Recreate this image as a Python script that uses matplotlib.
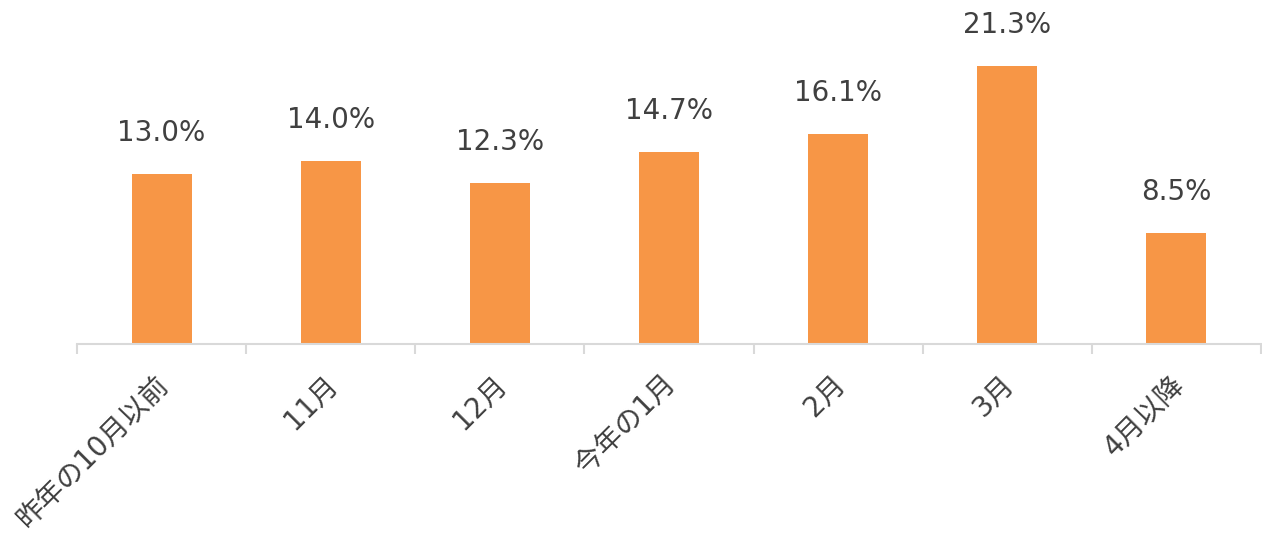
import matplotlib
matplotlib.use("Agg")
import matplotlib.pyplot as plt
import matplotlib.transforms as mtransforms
import numpy as np

categories = ["昨年の10月以前", "11月", "12月", "今年の1月", "2月", "3月", "4月以降"]
values = [13.0, 14.0, 12.3, 14.7, 16.1, 21.3, 8.5]
value_labels = ["13.0%", "14.0%", "12.3%", "14.7%", "16.1%", "21.3%", "8.5%"]

plt.rcParams['font.family'] = ['DejaVu Sans', 'Noto Sans CJK JP']

W, H = 1262, 534
fig = plt.figure(figsize=(W / 100, H / 100), dpi=100)
ax = fig.add_axes([77 / W, (H - 344) / H, (1261 - 77) / W, (344 - 17.5) / H])

x = np.arange(len(categories))
ax.bar(x, values, width=0.355, color="#F79646", zorder=2)
ax.set_xlim(-0.5, len(categories) - 0.5)
ax.set_ylim(0, 25)

text_color = "#404040"
for xi, v, lab in zip(x, values, value_labels):
    ax.annotate(lab, (xi, v), xytext=(0, 41), textcoords="offset pixels",
                ha="center", va="center", fontsize=20, color=text_color)

for s in ["top", "right", "left"]:
    ax.spines[s].set_visible(False)
ax.spines["bottom"].set_color("#D9D9D9")
ax.spines["bottom"].set_linewidth(1.5)
ax.set_yticks([])

ax.set_xticks(np.arange(len(categories) + 1) - 0.5)
ax.set_xticklabels([])
ax.tick_params(axis="x", which="major", length=7.2, width=1.5, color="#D9D9D9")
ax.set_xticks(x, minor=True)
ax.set_xticklabels(categories, minor=True, rotation=45, ha="right", va="center",
                   rotation_mode="anchor", fontsize=20, color=text_color)
ax.tick_params(axis="x", which="minor", length=0, pad=26)
offset = mtransforms.ScaledTranslation(3 / 100, 0, fig.dpi_scale_trans)
for lab in ax.get_xticklabels(minor=True):
    lab.set_transform(lab.get_transform() + offset)

fig.savefig("out.png", dpi=100)
